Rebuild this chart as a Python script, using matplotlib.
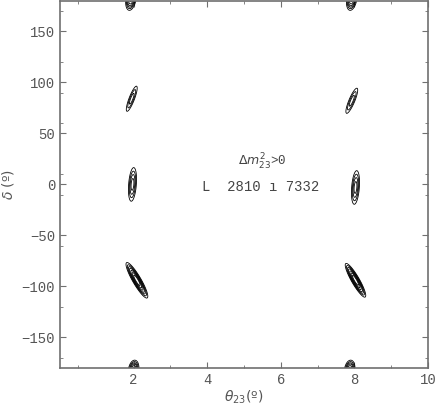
import matplotlib
matplotlib.use("Agg")
import matplotlib.pyplot as plt
import numpy as np

# blob parameters (theta23 in deg-ish units, delta in deg)
blob_x = [1.93, 7.93, 1.95, 7.93, 1.97, 8.03, 2.09, 8.03, 2.00, 7.87]
blob_y = [182, 182, 84, 82, 0, -3, -94, -94, -182, -182]
blob_sx = [0.09, 0.09, 0.12, 0.13, 0.08, 0.08, 0.17, 0.16, 0.09, 0.09]
blob_sy = [7, 7, 10, 10, 12, 12, 10, 9.5, 6, 6]
blob_rho = [0.3, 0.3, 0.85, 0.85, 0.3, 0.3, -0.9, -0.9, 0.2, 0.2]
blob_h = [1.3, 1.3, 0.75, 0.75, 0.9, 0.9, 1.6, 1.6, 1.3, 1.3]
levels = [0.35, 0.5, 0.65, 0.8, 1.0, 1.2, 1.4]

x_ticks = [2, 4, 6, 8, 10]
y_ticks = [-150, -100, -50, 0, 50, 100, 150]

xs = np.linspace(0, 10, 800)
ys = np.linspace(-180, 180, 800)
X, Y = np.meshgrid(xs, ys)
Z = np.zeros_like(X)
for cx, cy, sx, sy, r, h in zip(blob_x, blob_y, blob_sx, blob_sy, blob_rho, blob_h):
    u = (X - cx) / sx
    v = (Y - cy) / sy
    q = (u * u - 2 * r * u * v + v * v) / (1 - r * r)
    Z += h * np.exp(-0.5 * q)

gray = "#707070"
fig = plt.figure(figsize=(4.36, 4.08), dpi=100)
ax = fig.add_axes([0.1376, 0.098, 0.844, 0.9])
ax.contour(X, Y, Z, levels=levels, colors="black", linewidths=0.6)

ax.set_xlim(0, 10)
ax.set_ylim(-180, 180)
ax.set_xticks(x_ticks)
ax.set_yticks(y_ticks)
ax.set_xticks([0.5, 3, 5, 7, 9], minor=True)
ax.set_yticks([-170, -120, -60, -10, 10, 60, 90, 120, 170], minor=True)
for s in ax.spines.values():
    s.set_color(gray)
    s.set_linewidth(1.2)
ax.tick_params(which="both", direction="in", color=gray, top=True, right=True)
ax.tick_params(which="major", length=4, labelsize=10, labelcolor="#555555")
ax.tick_params(which="minor", length=2)
for lab in ax.get_xticklabels() + ax.get_yticklabels():
    lab.set_family("Liberation Mono")

ax.set_xlabel(r"$\theta_{23}$(º)", color="#555555", fontsize=10, labelpad=1)
ax.set_ylabel(r"$\delta$ (º)", color="#555555", fontsize=10, labelpad=4)

ax.text(5.5, 22, r"$\Delta m^2_{23}$>0", ha="center", va="center",
        fontsize=9, color="#444444", family="Liberation Mono")
ax.text(5.45, -3, "L  2810 ı 7332", ha="center", va="center",
        fontsize=10, color="#444444", family="Liberation Mono")

fig.savefig("out.png", dpi=100)
